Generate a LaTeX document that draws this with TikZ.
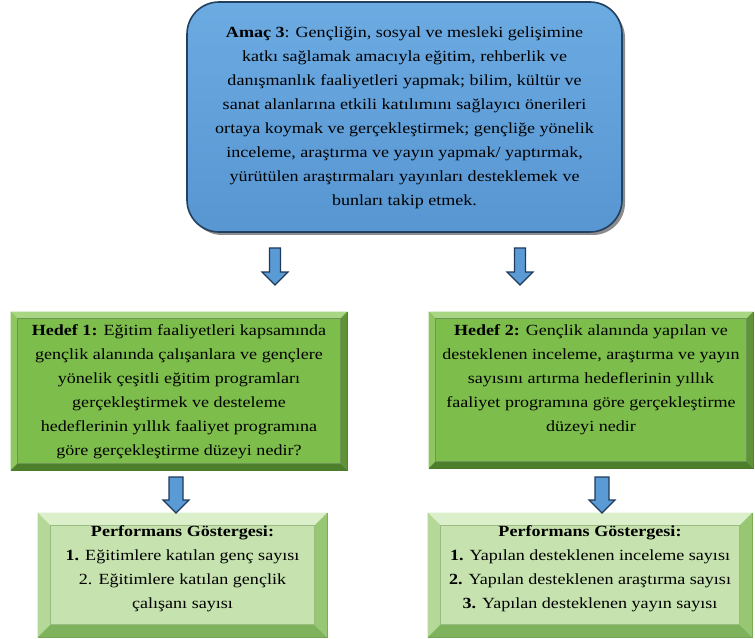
\documentclass[tikz,border=0pt]{standalone}
\usepackage{fontspec}
\setmainfont{Liberation Serif}[FakeStretch=1.165]
\usetikzlibrary{calc}
\definecolor{blueT}{HTML}{6CAAE2}
\definecolor{blueB}{HTML}{5896D2}
\definecolor{navy}{HTML}{22405F}
\definecolor{arrowF}{HTML}{5B9BD5}
\definecolor{arrowD}{HTML}{1F3A5A}
\definecolor{gF}{HTML}{7DBD4B}
\definecolor{gTop}{HTML}{A8D682}
\definecolor{gLeft}{HTML}{8FC662}
\definecolor{gBot}{HTML}{4C7E2C}
\definecolor{gRight}{HTML}{5E9337}
\definecolor{gLine}{HTML}{4A7A2A}
\definecolor{lF}{HTML}{C6E2AE}
\definecolor{lTop}{HTML}{DCEFCB}
\definecolor{lLeft}{HTML}{B3D897}
\definecolor{lBot}{HTML}{7FB25C}
\definecolor{lRight}{HTML}{98C774}
\definecolor{lLine}{HTML}{6E9E4C}
\newcommand\bevelframe[6]{%
  \fill[#3] (#1.north west) -- (#1.north east) -- ($(#1.north east)+(-#2,#2)$) -- ($(#1.north west)+(#2,#2)$) -- cycle;
  \fill[#4] (#1.north west) -- ($(#1.north west)+(#2,#2)$) -- ($(#1.south west)+(#2,-#2)$) -- (#1.south west) -- cycle;
  \fill[#5] (#1.south west) -- ($(#1.south west)+(#2,-#2)$) -- ($(#1.south east)+(-#2,-#2)$) -- (#1.south east) -- cycle;
  \fill[#6] (#1.north east) -- (#1.south east) -- ($(#1.south east)+(-#2,-#2)$) -- ($(#1.north east)+(-#2,#2)$) -- cycle;
}
\newcommand\blockarrow[6]{% x, top y, shaft w, head w, head start y, tip y
  \draw[barrow] ({#1-#3/2},#2) -- ({#1+#3/2},#2) -- ({#1+#3/2},#5) -- ({#1+#4/2},#5) -- (#1,#6) -- ({#1-#4/2},#5) -- ({#1-#3/2},#5) -- cycle;
}
\tikzset{
  goal/.style={draw=navy, line width=1.6pt, rounded corners=32pt, top color=blueT, bottom color=blueB, minimum width=435pt, minimum height=230pt},
  hbox/.style={fill=gF, draw=gLine, line width=0.6pt},
  pbox/.style={fill=lF, draw=lLine, line width=0.6pt},
  txt/.style={align=center, font=\fontsize{15.5}{24}\selectfont, inner sep=0pt},
  barrow/.style={fill=arrowF, draw=arrowD, line width=1.1pt, line join=miter}
}
\begin{document}
\begin{tikzpicture}[x=1pt,y=-1pt]
\useasboundingbox (0,0) rectangle (755,639);
% goal
\fill[black!45, rounded corners=32pt] (190,6) rectangle (625,235);
\node[goal] (goal) at (404.5,117) {};
\node[txt] (goaltext) at (404.5,118) {\textbf{Amaç 3}: Gençliğin, sosyal ve mesleki gelişimine\\
katkı sağlamak amacıyla eğitim, rehberlik ve\\
danışmanlık faaliyetleri yapmak; bilim, kültür ve\\
sanat alanlarına etkili katılımını sağlayıcı önerileri\\
ortaya koymak ve gerçekleştirmek; gençliğe yönelik\\
inceleme, araştırma ve yayın yapmak/ yaptırmak,\\
yürütülen araştırmaları yayınları desteklemek ve\\
bunları takip etmek.};
% hedef boxes
\node[hbox, minimum width=336pt, minimum height=158pt] (h1) at (179,391) {};
\bevelframe{h1}{7}{gTop}{gLeft}{gBot}{gRight}
\draw[gLine!80, line width=0.5pt] ($(h1.north west)+(7,7)$) rectangle ($(h1.south east)+(-7,-7)$);
\node[txt] (h1text) at (179,392) {\textbf{Hedef 1:} Eğitim faaliyetleri kapsamında\\
gençlik alanında çalışanlara ve gençlere\\
yönelik çeşitli eğitim programları\\
gerçekleştirmek ve desteleme\\
hedeflerinin yıllık faaliyet programına\\
göre gerçekleştirme düzeyi nedir?};
\node[hbox, minimum width=324pt, minimum height=156pt] (h2) at (591,390) {};
\bevelframe{h2}{7}{gTop}{gLeft}{gBot}{gRight}
\draw[gLine!80, line width=0.5pt] ($(h2.north west)+(7,7)$) rectangle ($(h2.south east)+(-7,-7)$);
\node[txt] (h2text) at (591,380) {\textbf{Hedef 2:} Gençlik alanında yapılan ve\\
desteklenen inceleme, araştırma ve yayın\\
sayısını artırma hedeflerinin yıllık\\
faaliyet programına göre gerçekleştirme\\
düzeyi nedir};
% performance boxes
\node[pbox, minimum width=289pt, minimum height=124pt] (p1) at (182.5,575) {};
\bevelframe{p1}{13}{lTop}{lLeft}{lBot}{lRight}
\draw[lLine!70, line width=0.5pt] ($(p1.north west)+(13,13)$) rectangle ($(p1.south east)+(-13,-13)$);
\node[txt] (p1text) at (182.5,568.5) {\textbf{Performans Göstergesi:}\\
\textbf{1.} Eğitimlere katılan genç sayısı\\
2. Eğitimlere katılan gençlik\\
çalışanı sayısı};
\node[pbox, minimum width=324pt, minimum height=124pt] (p2) at (590,575) {};
\bevelframe{p2}{13}{lTop}{lLeft}{lBot}{lRight}
\draw[lLine!70, line width=0.5pt] ($(p2.north west)+(13,13)$) rectangle ($(p2.south east)+(-13,-13)$);
\node[txt] (p2text) at (590,568.5) {\textbf{Performans Göstergesi:}\\
\textbf{1.} Yapılan desteklenen inceleme sayısı\\
\textbf{2.} Yapılan desteklenen araştırma sayısı\\
\textbf{3.} Yapılan desteklenen yayın sayısı};
% arrows
\blockarrow{275}{248}{11}{26}{272}{285}
\blockarrow{520}{248}{11}{26}{272}{285}
\blockarrow{176}{477}{14}{26}{500}{513}
\blockarrow{602}{477}{14}{26}{500}{513}
\end{tikzpicture}
\end{document}
